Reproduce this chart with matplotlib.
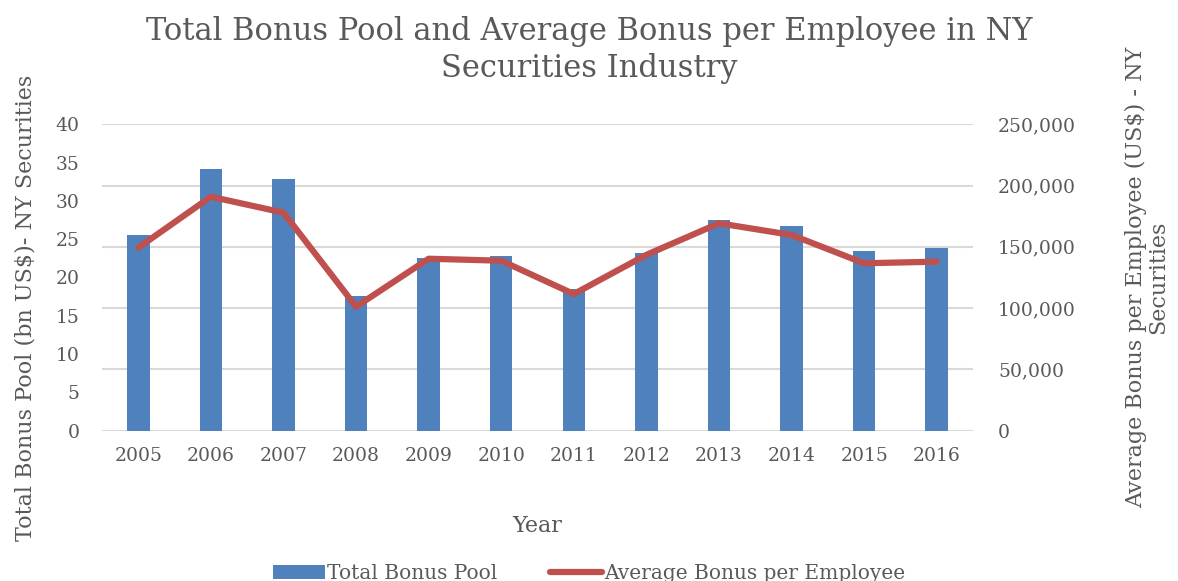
import matplotlib.pyplot as plt
import numpy as np

years = ['2005', '2006', '2007', '2008', '2009', '2010',
         '2011', '2012', '2013', '2014', '2015', '2016']
bonus_pool = [25.5, 34.2, 32.9, 17.6, 22.5, 22.8,
              18.5, 23.2, 27.5, 26.7, 23.4, 23.9]
avg_bonus = [149300, 190900, 177900, 101200, 140300, 138700,
             111500, 143500, 169200, 159700, 136600, 137900]

grey = '#595959'
plt.rcParams['font.family'] = ['DejaVu Serif']

fig = plt.figure(figsize=(11.78, 5.81), dpi=100)
ax = fig.add_axes([0.0866, 0.2587, 0.7394, 0.5274])
ax2 = ax.twinx()

x = np.arange(len(years))

# gridlines follow the right-hand scale, drawn behind the bars
right_ticks = np.arange(0, 250001, 50000)
for v in right_ticks:
    ax.axhline(v * 40 / 250000, color='#d9d9d9', lw=1.5, zorder=0)

ax.bar(x, bonus_pool, width=0.31, color='#4f81bd', label='Total Bonus Pool', zorder=2)
ax2.plot(x, avg_bonus, color='#c0504d', lw=4.5, solid_capstyle='round',
         label='Average Bonus per Employee', zorder=3)

ax.set_xlim(-0.5, len(years) - 0.5)
ax.set_ylim(0, 40)
ax.set_yticks(np.arange(0, 41, 5))
ax2.set_ylim(0, 250000)
ax2.set_yticks(right_ticks)
ax2.set_yticklabels([f'{v:,}' for v in right_ticks])
ax.set_xticks(x)
ax.set_xticklabels(years)

for a in (ax, ax2):
    for s in a.spines.values():
        s.set_visible(False)
    a.tick_params(length=0, labelsize=13.5, colors=grey)
ax.tick_params(axis='y', pad=16)
ax.tick_params(axis='x', pad=12)
ax2.tick_params(axis='y', pad=18)

ax.set_xlabel('Year', fontsize=16, color=grey, labelpad=36)
ax.set_ylabel('Total Bonus Pool (bn US$)- NY Securities', fontsize=16, color=grey)
ax.yaxis.set_label_coords(-0.075, 0.40)
ax2.set_ylabel('Average Bonus per Employee (US$) - NY\nSecurities', fontsize=16,
               color=grey, rotation=90, linespacing=1.0)
ax2.yaxis.set_label_coords(1.175, 0.5)

fig.text(0.5, 1 - 50 / 581, 'Total Bonus Pool and Average Bonus per Employee in NY\nSecurities Industry',
         fontsize=22, color=grey, ha='center', va='center', linespacing=1.25)

h1, l1 = ax.get_legend_handles_labels()
h2, l2 = ax2.get_legend_handles_labels()
leg = fig.legend(h1 + h2, l1 + l2, loc='lower center', bbox_to_anchor=(0.5, -0.035),
                 ncol=2, frameon=False, fontsize=14.5, handlelength=2.6,
                 handletextpad=0.1, columnspacing=2.6)
for t in leg.get_texts():
    t.set_color(grey)

fig.savefig('out.png', dpi=100)
